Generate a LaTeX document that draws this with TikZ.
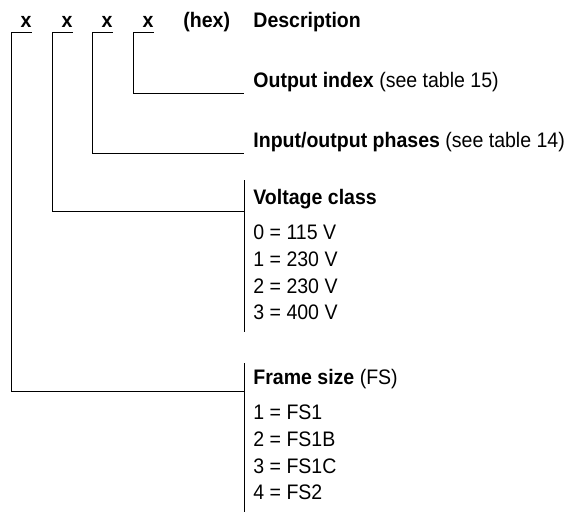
\documentclass[tikz,border=0pt]{standalone}
\usepackage{fontspec}
\setmainfont[FakeStretch=0.93]{Liberation Sans}
\begin{document}
\begin{tikzpicture}[x=1pt,y=-1pt,line width=0.8pt,
  every node/.style={inner sep=0pt,font=\fontsize{21}{24}\selectfont},
  digit/.style={anchor=base,font=\fontsize{21}{24}\selectfont\bfseries},
  lbl/.style={anchor=base west}]
  \useasboundingbox (0,0) rectangle (568,519);
  % header line
  \node[digit] (d1) at (26,28) {x};
  \node[digit] (d2) at (67,28) {x};
  \node[digit] (d3) at (107,28) {x};
  \node[digit] (d4) at (148,28) {x};
  \node[lbl,font=\fontsize{21}{24}\selectfont\bfseries] (hex) at (183,28) {(hex)};
  \node[lbl,font=\fontsize{21}{24}\selectfont\bfseries] (desc) at (253,28) {Description};
  % descriptions
  \node[lbl] (oi) at (253,88) {\textbf{Output index} (see table 15)};
  \node[lbl] (io) at (253,147) {\textbf{Input/output phases} (see table 14)};
  \node[lbl] (vc) at (253,204) {\textbf{Voltage class}};
  \node[lbl] (vc0) at (253,239) {0 = 115 V};
  \node[lbl] (vc1) at (253,266) {1 = 230 V};
  \node[lbl] (vc2) at (253,293) {2 = 230 V};
  \node[lbl] (vc3) at (253,319) {3 = 400 V};
  \node[lbl] (fs) at (253,384) {\textbf{Frame size} (FS)};
  \node[lbl] (fs1) at (253,419) {1 = FS1};
  \node[lbl] (fs2) at (253,446) {2 = FS1B};
  \node[lbl] (fs3) at (253,473) {3 = FS1C};
  \node[lbl] (fs4) at (253,499) {4 = FS2};
  % line ends and bars
  \coordinate (oiln) at (244,93);
  \coordinate (ioln) at (244,153);
  \coordinate (vcln) at (244,211);
  \coordinate (fsln) at (244,391);
  \coordinate (vctop) at (244,180);
  \coordinate (vcbot) at (244,332);
  \coordinate (fstop) at (244,363);
  \coordinate (fsbot) at (244,512);
  \draw (vctop) -- (vcbot);
  \draw (fstop) -- (fsbot);
  % connectors
  \draw ([yshift=-4pt]d1.base east) -- ++(-20,0) |- (fsln);
  \draw ([yshift=-4pt]d2.base east) -- ++(-20,0) |- (vcln);
  \draw ([yshift=-4pt]d3.base east) -- ++(-20,0) |- (ioln);
  \draw ([yshift=-4pt]d4.base east) -- ++(-20,0) |- (oiln);
\end{tikzpicture}
\end{document}
